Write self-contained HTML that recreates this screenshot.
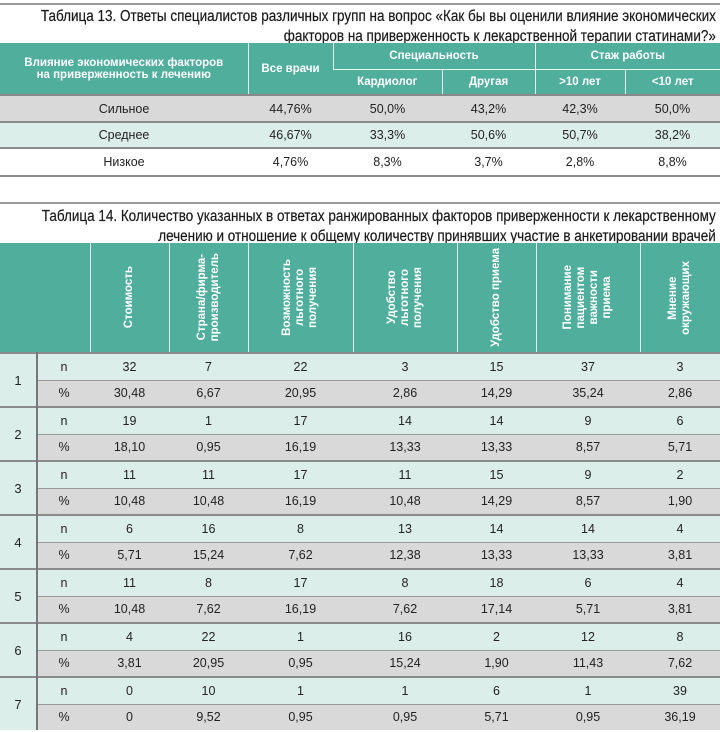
<!DOCTYPE html>
<html><head><meta charset="utf-8"><style>
*{margin:0;padding:0;box-sizing:border-box}
body{width:720px;height:732px;background:#fff;font-family:"Liberation Sans Narrow","Liberation Sans",sans-serif;color:#222;position:relative;overflow:hidden}
.line{position:absolute;left:0;width:720px;height:2px;background:#9a9a9a}
.title{position:absolute;right:4px;text-align:right;font-size:15.5px;line-height:20px;color:#1a1a1a;white-space:nowrap;transform:scaleX(0.87);transform-origin:right top;-webkit-text-stroke:0.2px #1a1a1a}
table{position:absolute;left:0;border-collapse:collapse;table-layout:fixed;width:720px}
td,th{text-align:center;vertical-align:middle;font-size:12.5px;padding:0}
th{background:#4fae9c;color:#fff;font-weight:bold;font-size:11.5px;border-left:1px solid #e8f4f0}
th:first-child{border-left:none}
.g{background:#d9d9d9}.t{background:#dceee9}.w{background:#fff}
#t13 tr.r td{border-top:2px solid #8a8a8a}
#t13 tr.last td{border-bottom:2px solid #8a8a8a}
#t13{top:43px}
#t14{top:243px}
.v{display:flex;align-items:center;justify-content:center;height:109px}
.v span{writing-mode:vertical-rl;transform:rotate(180deg);text-align:center;line-height:13px;font-size:11.5px}
#t14 td.num{background:#dceee9;border-right:2px solid #777;font-size:13px}
#t14 tr.n td{border-top:2px solid #8a8a8a}
#t14 tr.p td{border-top:1px solid #999}
</style></head><body>
<div class="line" style="top:3px"></div>
<div class="title" style="top:7px">Таблица 13. Ответы специалистов различных групп на вопрос «Как бы вы оценили влияние экономических<br>факторов на приверженность к лекарственной терапии статинами?»</div>
<table id="t13">
<colgroup><col style="width:248px"><col style="width:85px"><col style="width:109px"><col style="width:93px"><col style="width:90px"><col style="width:95px"></colgroup>
<tr style="height:26px"><th rowspan="2">Влияние экономических факторов<br>на приверженность к лечению</th><th rowspan="2">Все врачи</th><th colspan="2" style="border-bottom:1px solid #e8f4f0">Специальность</th><th colspan="2" style="border-bottom:1px solid #e8f4f0">Стаж работы</th></tr>
<tr style="height:26px"><th>Кардиолог</th><th>Другая</th><th>&gt;10 лет</th><th>&lt;10 лет</th></tr>
<tr class="r g" style="height:27px"><td>Сильное</td><td>44,76%</td><td>50,0%</td><td>43,2%</td><td>42,3%</td><td>50,0%</td></tr>
<tr class="r t" style="height:26px"><td>Среднее</td><td>46,67%</td><td>33,3%</td><td>50,6%</td><td>50,7%</td><td>38,2%</td></tr>
<tr class="r w last" style="height:28px"><td>Низкое</td><td>4,76%</td><td>8,3%</td><td>3,7%</td><td>2,8%</td><td>8,8%</td></tr>
</table>
<div class="line" style="top:202px"></div>
<div class="title" style="top:207px">Таблица 14. Количество указанных в ответах ранжированных факторов приверженности к лекарственному<br>лечению и отношение к общему количеству принявших участие в анкетировании врачей</div>
<table id="t14">
<colgroup><col style="width:37px"><col style="width:53px"><col style="width:79px"><col style="width:79px"><col style="width:105px"><col style="width:104px"><col style="width:79px"><col style="width:104px"><col style="width:80px"></colgroup>
<tr><th colspan="2"><div class="v"></div></th>
<th><div class="v"><span>Стоимость</span></div></th>
<th><div class="v"><span>Страна/фирма-<br>производитель</span></div></th>
<th><div class="v"><span>Возможность<br>льготного<br>получения</span></div></th>
<th><div class="v"><span>Удобство<br>льготного<br>получения</span></div></th>
<th><div class="v"><span>Удобство приема</span></div></th>
<th><div class="v"><span>Понимание<br>пациентом<br>важности<br>приема</span></div></th>
<th><div class="v"><span>Мнение<br>окружающих</span></div></th></tr>
<tr class="n t" style="height:27px"><td class="num" rowspan="2">1</td><td>n</td><td>32</td><td>7</td><td>22</td><td>3</td><td>15</td><td>37</td><td>3</td></tr>
<tr class="p g" style="height:27px"><td>%</td><td>30,48</td><td>6,67</td><td>20,95</td><td>2,86</td><td>14,29</td><td>35,24</td><td>2,86</td></tr>
<tr class="n t" style="height:27px"><td class="num" rowspan="2">2</td><td>n</td><td>19</td><td>1</td><td>17</td><td>14</td><td>14</td><td>9</td><td>6</td></tr>
<tr class="p g" style="height:27px"><td>%</td><td>18,10</td><td>0,95</td><td>16,19</td><td>13,33</td><td>13,33</td><td>8,57</td><td>5,71</td></tr>
<tr class="n t" style="height:27px"><td class="num" rowspan="2">3</td><td>n</td><td>11</td><td>11</td><td>17</td><td>11</td><td>15</td><td>9</td><td>2</td></tr>
<tr class="p g" style="height:27px"><td>%</td><td>10,48</td><td>10,48</td><td>16,19</td><td>10,48</td><td>14,29</td><td>8,57</td><td>1,90</td></tr>
<tr class="n t" style="height:27px"><td class="num" rowspan="2">4</td><td>n</td><td>6</td><td>16</td><td>8</td><td>13</td><td>14</td><td>14</td><td>4</td></tr>
<tr class="p g" style="height:27px"><td>%</td><td>5,71</td><td>15,24</td><td>7,62</td><td>12,38</td><td>13,33</td><td>13,33</td><td>3,81</td></tr>
<tr class="n t" style="height:27px"><td class="num" rowspan="2">5</td><td>n</td><td>11</td><td>8</td><td>17</td><td>8</td><td>18</td><td>6</td><td>4</td></tr>
<tr class="p g" style="height:27px"><td>%</td><td>10,48</td><td>7,62</td><td>16,19</td><td>7,62</td><td>17,14</td><td>5,71</td><td>3,81</td></tr>
<tr class="n t" style="height:27px"><td class="num" rowspan="2">6</td><td>n</td><td>4</td><td>22</td><td>1</td><td>16</td><td>2</td><td>12</td><td>8</td></tr>
<tr class="p g" style="height:27px"><td>%</td><td>3,81</td><td>20,95</td><td>0,95</td><td>15,24</td><td>1,90</td><td>11,43</td><td>7,62</td></tr>
<tr class="n t" style="height:27px"><td class="num" rowspan="2">7</td><td>n</td><td>0</td><td>10</td><td>1</td><td>1</td><td>6</td><td>1</td><td>39</td></tr>
<tr class="p g" style="height:26px"><td>%</td><td>0</td><td>9,52</td><td>0,95</td><td>0,95</td><td>5,71</td><td>0,95</td><td>36,19</td></tr>
</table>
</body></html>
